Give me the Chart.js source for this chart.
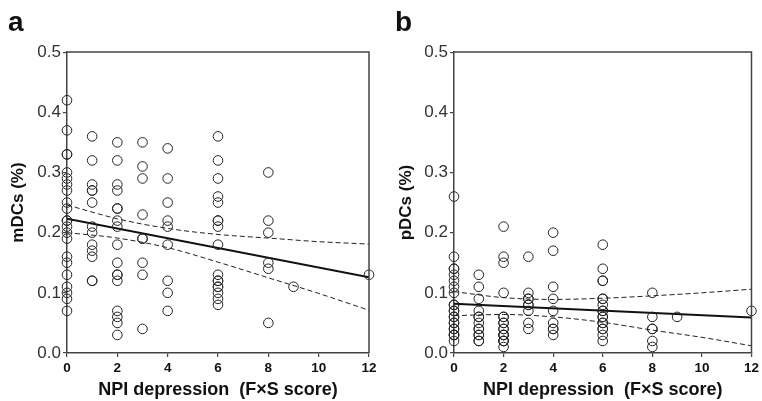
<!DOCTYPE html>
<html>
<head>
<meta charset="utf-8">
<script src="https://cdn.jsdelivr.net/npm/chart.js@4.4.0/dist/chart.umd.min.js"></script>
<style>
  html, body { margin: 0; padding: 0; background: #fff; }
  #wrap { position: relative; width: 762px; height: 401px; }
  .panel { position: absolute; top: 0; width: 381px; height: 401px; }
</style>
</head>
<body>
<div id="wrap">
  <div class="panel" style="left:0"><canvas id="chartA" width="381" height="401"></canvas></div>
  <div class="panel" style="left:381px"><canvas id="chartB" width="381" height="401"></canvas></div>
</div>
<script>
// NPI depression scores that have observations
const scores = [0, 1, 2, 3, 4, 6, 8, 9, 12];
const xTicks = [0, 2, 4, 6, 8, 10, 12];
const yTicks = [0.0, 0.1, 0.2, 0.3, 0.4, 0.5];

// mDCs (%) per score, same order as scores
const mdcGroups = [
  [0.42, 0.37, 0.33, 0.33, 0.30, 0.29, 0.28, 0.27, 0.25, 0.24, 0.22, 0.22, 0.21, 0.20, 0.19, 0.16, 0.15, 0.13, 0.11, 0.10, 0.09, 0.07],
  [0.36, 0.32, 0.28, 0.27, 0.27, 0.25, 0.21, 0.20, 0.18, 0.17, 0.16, 0.12, 0.12],
  [0.35, 0.32, 0.28, 0.27, 0.24, 0.24, 0.22, 0.21, 0.18, 0.15, 0.13, 0.13, 0.12, 0.07, 0.06, 0.05, 0.03],
  [0.35, 0.31, 0.29, 0.23, 0.19, 0.19, 0.15, 0.13, 0.04],
  [0.34, 0.29, 0.25, 0.22, 0.21, 0.18, 0.12, 0.10, 0.07],
  [0.36, 0.32, 0.29, 0.26, 0.25, 0.22, 0.22, 0.21, 0.18, 0.13, 0.12, 0.12, 0.11, 0.11, 0.10, 0.09, 0.08],
  [0.30, 0.22, 0.20, 0.15, 0.14, 0.05],
  [0.11],
  [0.13],
];

// pDCs (%) per score
const pdcGroups = [
  [0.26, 0.16, 0.14, 0.14, 0.13, 0.12, 0.11, 0.10, 0.08, 0.08, 0.07, 0.07, 0.06, 0.06, 0.05, 0.05, 0.04, 0.04, 0.03, 0.03, 0.03, 0.02],
  [0.13, 0.11, 0.09, 0.07, 0.06, 0.06, 0.05, 0.04, 0.04, 0.03, 0.03, 0.02, 0.02],
  [0.21, 0.16, 0.15, 0.10, 0.06, 0.06, 0.05, 0.05, 0.04, 0.04, 0.03, 0.03, 0.03, 0.02, 0.02, 0.02, 0.01],
  [0.16, 0.10, 0.09, 0.09, 0.08, 0.08, 0.07, 0.05, 0.04],
  [0.20, 0.17, 0.11, 0.09, 0.07, 0.05, 0.04, 0.04, 0.03],
  [0.18, 0.14, 0.12, 0.12, 0.09, 0.09, 0.08, 0.07, 0.07, 0.06, 0.06, 0.05, 0.05, 0.04, 0.04, 0.03, 0.02],
  [0.10, 0.06, 0.04, 0.04, 0.02, 0.01],
  [0.06],
  [0.07],
];

// regression lines (end points) and 95% bands
const fitX = [0, 12];
const mdcFit = [0.223, 0.126];
const pdcFit = [0.082, 0.059];
const bandX = [0, 2, 4, 6, 8, 10, 12];
const mdcUpper = [0.246, 0.223, 0.207, 0.197, 0.191, 0.185, 0.181];
const mdcLower = [0.200, 0.191, 0.175, 0.151, 0.125, 0.099, 0.071];
const pdcUpper = [0.102, 0.092, 0.089, 0.091, 0.095, 0.100, 0.106];
const pdcLower = [0.062, 0.064, 0.060, 0.051, 0.038, 0.026, 0.012];

const INK = "#222";
const AXIS = "#444";
const FONT = "Liberation Sans, Arial, sans-serif";

const framePlugin = {
  id: "frame",
  afterDatasetsDraw(chart) {
    const { ctx, chartArea: a } = chart;
    ctx.save();
    ctx.strokeStyle = AXIS;
    ctx.lineWidth = 1.5;
    ctx.beginPath();
    ctx.moveTo(a.left, a.top);
    ctx.lineTo(a.right, a.top);
    ctx.lineTo(a.right, a.bottom);
    ctx.stroke();
    ctx.restore();
  },
};

function pairs(xs, ys) {
  return xs.map((x, i) => ({ x: x, y: ys[i] }));
}

function scatterPoints(groups) {
  const pts = [];
  groups.forEach((vals, i) => vals.forEach(v => pts.push({ x: scores[i], y: v })));
  return pts;
}

function makePanel(id, label, yTitle, groups, fit, upper, lower, opt) {
  const bandStyle = {
    type: "line",
    borderColor: INK,
    borderWidth: 1,
    borderDash: [5, 3],
    pointRadius: 0,
    cubicInterpolationMode: "monotone",
    fill: false,
  };
  return new Chart(document.getElementById(id), {
    type: "scatter",
    data: {
      datasets: [
        {
          data: scatterPoints(groups),
          pointStyle: "circle",
          pointRadius: 4.8,
          pointBorderWidth: 1,
          pointBorderColor: INK,
          pointBackgroundColor: "rgba(0,0,0,0)",
          showLine: false,
          clip: false,
        },
        {
          type: "line",
          data: pairs(fitX, fit),
          borderColor: "#111",
          borderWidth: 2,
          pointRadius: 0,
          fill: false,
        },
        Object.assign({ data: pairs(bandX, upper) }, bandStyle),
        Object.assign({ data: pairs(bandX, lower) }, bandStyle),
      ],
    },
    options: {
      responsive: false,
      animation: false,
      events: [],
      layout: { autoPadding: false, padding: { left: opt.padLeft, right: opt.padRight, top: 0, bottom: 0 } },
      plugins: {
        legend: { display: false },
        tooltip: { enabled: false },
        title: {
          display: true,
          text: label,
          align: "start",
          color: "#111",
          font: { family: FONT, size: 28, weight: "bold", lineHeight: 1.2 },
          padding: { top: 6.5, bottom: 12 },
        },
      },
      scales: {
        x: {
          type: "linear",
          min: 0,
          max: 12,
          afterBuildTicks: s => { s.ticks = xTicks.map(v => ({ value: v })); },
          afterFit: s => { s.height = 48; },
          grid: { drawOnChartArea: false, drawTicks: true, tickLength: 4, color: AXIS, lineWidth: 1.2 },
          border: { display: true, color: AXIS, width: 1.5 },
          ticks: {
            color: "#111",
            padding: 3,
            maxRotation: 0,
            font: { family: FONT, size: 13.5, weight: "bold" },
          },
          title: {
            display: true,
            text: "NPI depression  (F\u00d7S score)",
            color: "#111",
            padding: { top: 0, bottom: 0 },
            font: { family: FONT, size: 18, weight: "bold", lineHeight: 1.2 },
          },
        },
        y: {
          type: "linear",
          min: 0,
          max: 0.5,
          afterBuildTicks: s => { s.ticks = yTicks.map(v => ({ value: v })); },
          afterFit: s => { s.width = opt.yWidth; },
          grid: { drawOnChartArea: false, drawTicks: true, tickLength: 4, color: AXIS, lineWidth: 1.2 },
          border: { display: true, color: AXIS, width: 1.5 },
          ticks: {
            color: "#333",
            padding: 2,
            callback: v => v.toFixed(1),
            font: { family: FONT, size: 17 },
          },
          title: {
            display: true,
            text: yTitle,
            color: "#111",
            padding: { top: opt.titlePad, bottom: 0 },
            font: { family: FONT, size: 17, weight: "bold", lineHeight: 1.2 },
          },
        },
      },
    },
    plugins: [framePlugin],
  });
}

makePanel("chartA", "a", "mDCs (%)", mdcGroups, mdcFit, mdcUpper, mdcLower,
  { padLeft: 8, padRight: 12, yWidth: 59, titlePad: 0 });
makePanel("chartB", "b", "pDCs (%)", pdcGroups, pdcFit, pdcUpper, pdcLower,
  { padLeft: 14, padRight: 5, yWidth: 59, titlePad: 1 });
</script>
</body>
</html>
